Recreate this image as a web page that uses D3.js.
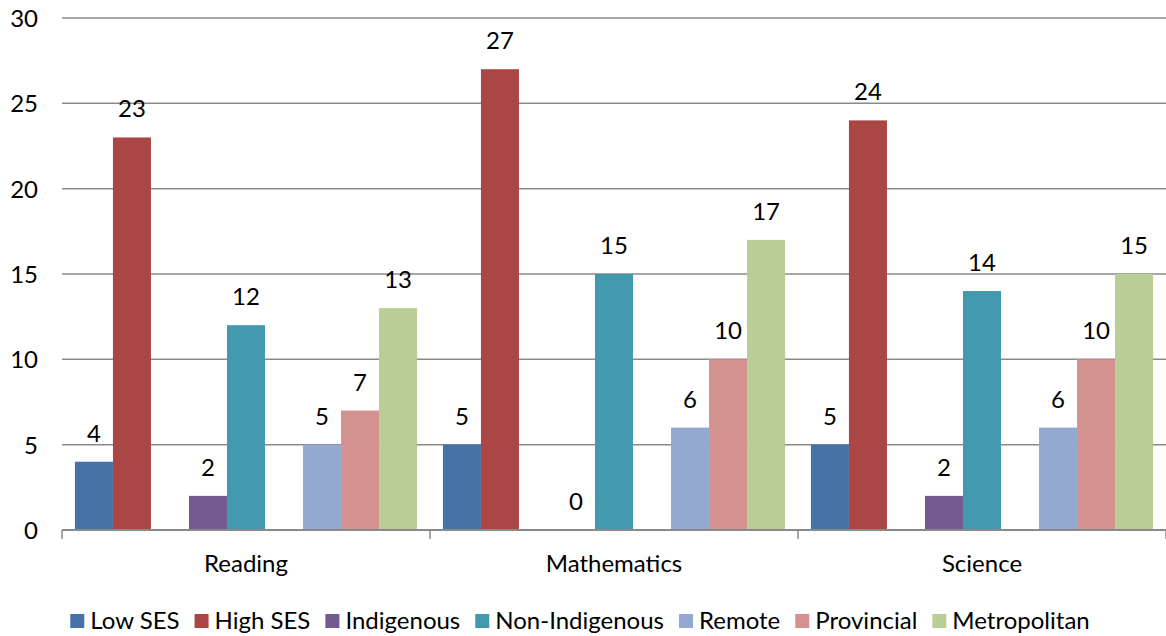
<!DOCTYPE html>
<html>
<head>
<meta charset="utf-8">
<script src="https://cdn.jsdelivr.net/npm/d3@7"></script>
<style>
  body { margin: 0; background: #fff; }
  svg text { font-family: Lato, "Open Sans", sans-serif; fill: #000; }
</style>
</head>
<body>
<svg width="1166" height="636"></svg>
<script>
var categories = ['Reading', 'Mathematics', 'Science'];
var seriesNames = ['Low SES', 'High SES', 'Indigenous', 'Non-Indigenous', 'Remote', 'Provincial', 'Metropolitan'];
var lowSES = [4, 5, 5];
var highSES = [23, 27, 24];
var indigenous = [2, 0, 2];
var nonIndigenous = [12, 15, 14];
var remote = [5, 6, 6];
var provincial = [7, 10, 10];
var metropolitan = [13, 17, 15];
var yTicks = [0, 5, 10, 15, 20, 25, 30];

var seriesValues = [lowSES, highSES, indigenous, nonIndigenous, remote, provincial, metropolitan];
var colors = ['#4572A7', '#AA4643', '#735A91', '#4198AF', '#93A9D0', '#D39190', '#B9CE95'];
// bars sit in 9 slots per category, leaving gaps between the three pairs/groups
var slots = [0, 1, 3, 4, 6, 7, 8];

var svg = d3.select('svg');
var margin = {top: 18, right: 0, bottom: 106, left: 62}
  , width = 1166 - margin.left - margin.right
  , height = 636 - margin.top - margin.bottom;

var g = svg.append('g')
    .attr('transform', 'translate(' + margin.left + ',' + margin.top + ')');

var xScale = d3.scaleBand()
    .domain(categories)
    .range([0, width]);

var slotScale = d3.scaleBand()
    .domain(d3.range(9))
    .range([0, xScale.bandwidth()])
    .paddingOuter(0.34);

var yScale = d3.scaleLinear()
    .domain([0, 30])
    .range([height, 0]);

// gridlines
g.selectAll('.grid')
    .data(yTicks.filter(function(d) { return d > 0; }))
  .enter().append('line')
    .attr('class', 'grid')
    .attr('x1', 0)
    .attr('x2', width)
    .attr('y1', function(d) { return yScale(d); })
    .attr('y2', function(d) { return yScale(d); })
    .attr('stroke', '#8a8a8a')
    .attr('stroke-width', 1.5);

// y tick labels
g.selectAll('.ylab')
    .data(yTicks)
  .enter().append('text')
    .attr('class', 'ylab')
    .attr('x', -24)
    .attr('y', function(d) { return yScale(d) + 9; })
    .attr('text-anchor', 'end')
    .style('font-size', '24px')
    .text(function(d) { return d; });

// bars
var rows = [];
categories.forEach(function(c, ci) {
  seriesValues.forEach(function(vals, si) {
    rows.push({cat: c, series: si, value: vals[ci]});
  });
});

var barX = function(d) { return xScale(d.cat) + slotScale(slots[d.series]); };

g.selectAll('.bar')
    .data(rows)
  .enter().append('rect')
    .attr('class', 'bar')
    .attr('x', barX)
    .attr('width', slotScale.bandwidth())
    .attr('y', function(d) { return yScale(d.value); })
    .attr('height', function(d) { return height - yScale(d.value); })
    .attr('fill', function(d) { return colors[d.series]; });

g.selectAll('.vlab')
    .data(rows)
  .enter().append('text')
    .attr('class', 'vlab')
    .attr('x', function(d) { return barX(d) + slotScale.bandwidth() / 2; })
    .attr('y', function(d) { return yScale(d.value) - 20; })
    .attr('text-anchor', 'middle')
    .style('font-size', '24px')
    .text(function(d) { return d.value; });

// x axis
var xAxis = g.append('g')
    .attr('transform', 'translate(0,' + height + ')');
xAxis.append('line')
    .attr('x1', 0).attr('x2', width)
    .attr('stroke', '#8a8a8a')
    .attr('stroke-width', 2);
xAxis.selectAll('.tick')
    .data(categories.concat(['end']))
  .enter().append('line')
    .attr('x1', function(d, i) { return i * xScale.step(); })
    .attr('x2', function(d, i) { return i * xScale.step(); })
    .attr('y1', 0).attr('y2', 9)
    .attr('stroke', '#8a8a8a')
    .attr('stroke-width', 1.5);
xAxis.selectAll('.xlab')
    .data(categories)
  .enter().append('text')
    .attr('x', function(d) { return xScale(d) + xScale.bandwidth() / 2; })
    .attr('y', 42)
    .attr('text-anchor', 'middle')
    .style('font-size', '24px')
    .text(function(d) { return d; });

// legend
var legend = svg.append('g');
var items = legend.selectAll('.item')
    .data(seriesNames)
  .enter().append('g')
    .attr('class', 'item');
items.append('rect')
    .attr('width', 14).attr('height', 14)
    .attr('y', 614)
    .attr('fill', function(d, i) { return colors[i]; });
items.append('text')
    .attr('x', 20)
    .attr('y', 629)
    .style('font-size', '24px')
    .text(function(d) { return d; });

var pos = 0, gap = 15;
items.each(function() {
  var w = 20 + this.querySelector('text').getComputedTextLength();
  d3.select(this).attr('data-x', pos);
  pos += w + gap;
});
var total = pos - gap;
var start = 580 - total / 2;
items.attr('transform', function() {
  return 'translate(' + (start + (+this.getAttribute('data-x'))) + ',0)';
});
</script>
</body>
</html>
